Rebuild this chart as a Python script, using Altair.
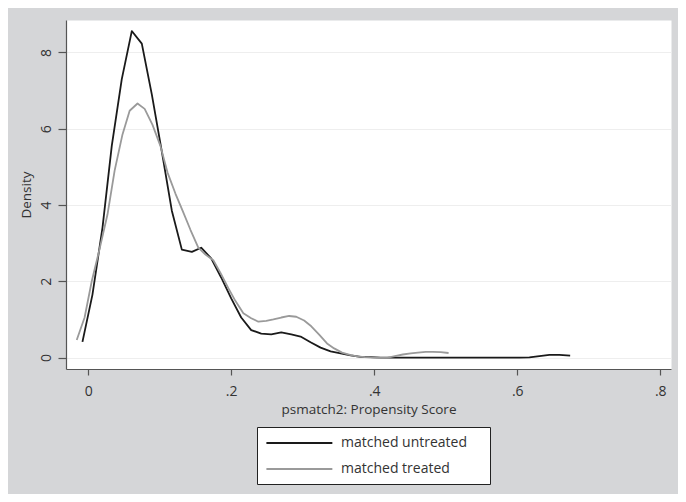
import altair as alt
import pandas as pd

series_names = ["matched untreated", "matched treated"]
series_colors = ["#1a1a1a", "#9a9a9a"]

untreated_x = [-0.008, 0.006, 0.020, 0.033, 0.047, 0.061, 0.075, 0.089, 0.103, 0.117,
               0.131, 0.145, 0.158, 0.172, 0.186, 0.200, 0.214, 0.228, 0.242, 0.256,
               0.270, 0.284, 0.297, 0.311, 0.325, 0.339, 0.353, 0.367, 0.381, 0.395,
               0.409, 0.423, 0.436, 0.450, 0.464, 0.478, 0.492, 0.506, 0.520, 0.534,
               0.548, 0.561, 0.575, 0.589, 0.603, 0.617, 0.631, 0.645, 0.659, 0.674]
untreated_y = [0.41, 1.65, 3.40, 5.55, 7.30, 8.56, 8.23, 6.90, 5.40, 3.85,
               2.83, 2.77, 2.88, 2.60, 2.10, 1.55, 1.05, 0.72, 0.63, 0.61,
               0.66, 0.61, 0.55, 0.40, 0.26, 0.16, 0.11, 0.06, 0.02, 0.01,
               0.00, 0.00, 0.00, 0.00, 0.00, 0.00, 0.00, 0.00, 0.00, 0.00,
               0.00, 0.00, 0.00, 0.00, 0.00, 0.005, 0.04, 0.07, 0.07, 0.05]

treated_x = [-0.016, -0.005, 0.005, 0.016, 0.027, 0.037, 0.048, 0.058, 0.069, 0.079,
             0.090, 0.101, 0.111, 0.122, 0.132, 0.143, 0.154, 0.164, 0.175, 0.185,
             0.196, 0.206, 0.217, 0.228, 0.238, 0.249, 0.259, 0.270, 0.281, 0.291,
             0.302, 0.312, 0.323, 0.334, 0.344, 0.355, 0.366, 0.376, 0.387, 0.397,
             0.408, 0.419, 0.429, 0.440, 0.451, 0.461, 0.472, 0.482, 0.493, 0.504]
treated_y = [0.46, 1.05, 2.00, 2.85, 3.75, 4.90, 5.85, 6.47, 6.66, 6.52,
             6.10, 5.55, 4.85, 4.30, 3.85, 3.35, 2.88, 2.70, 2.55, 2.22,
             1.82, 1.48, 1.16, 1.03, 0.94, 0.96, 1.00, 1.05, 1.09, 1.07,
             0.97, 0.82, 0.60, 0.37, 0.24, 0.13, 0.07, 0.03, 0.01, 0.00,
             -0.01, 0.00, 0.04, 0.08, 0.11, 0.13, 0.15, 0.15, 0.14, 0.12]

x_ticks = [0, 0.2, 0.4, 0.6, 0.8]
y_ticks = [0, 2, 4, 6, 8]

df = pd.concat([
    pd.DataFrame({"score": untreated_x, "density": untreated_y, "group": series_names[0]}),
    pd.DataFrame({"score": treated_x, "density": treated_y, "group": series_names[1]}),
])

FONT = "Open Sans"
TXT = "#333333"
PAD = "\u00a0" * 4 + "\u200b"

chart = alt.Chart(df).mark_line(strokeWidth=1.8, strokeJoin="round").encode(
    x=alt.X("score:Q",
            scale=alt.Scale(domain=[-0.031, 0.815], nice=False, zero=False),
            axis=alt.Axis(values=x_ticks, title="psmatch2: Propensity Score",
                          labelExpr="datum.value == 0 ? '0' : replace(format(datum.value, '.1f'), '0.', '.')",
                          grid=False, tickSize=6, labelPadding=9, titlePadding=4,
                          titleFontSize=13.5)),
    y=alt.Y("density:Q",
            scale=alt.Scale(domain=[-0.3, 8.85], nice=False, zero=False),
            axis=alt.Axis(values=y_ticks, title="Density", format="d",
                          grid=True, gridColor="#eeeeee", gridWidth=1.2,
                          tickSize=8, labelAngle=270, labelAlign="center",
                          labelBaseline="alphabetic", labelPadding=8, titlePadding=6,
                          titleFontSize=13.5)),
    color=alt.Color("group:N",
                    scale=alt.Scale(domain=series_names, range=series_colors),
                    legend=alt.Legend(title=None, orient="none", legendX=191, legendY=407,
                                      symbolType="M-1,0H9", symbolSize=174,
                                      symbolStrokeWidth=2, labelFontSize=14,
                                      labelFont=FONT, labelColor=TXT,
                                      labelExpr="datum.label + '" + PAD + "'",
                                      fillColor="white", strokeColor="#222222",
                                      padding=8, rowPadding=11, labelOffset=60)),
).properties(
    width=605, height=349,
    autosize=alt.AutoSizeParams(type="none"),
    padding={"left": 58, "top": 12, "right": 7, "bottom": 125},
).configure(
    background="#d5d6d8",
).configure_view(
    fill="white", stroke="transparent",
).configure_axis(
    labelFont=FONT, titleFont=FONT, labelFontSize=14, titleFontSize=14,
    labelColor=TXT, titleColor=TXT, titleFontWeight="normal",
    domainColor="#555555", tickColor="#555555", domainWidth=1.2, tickWidth=1.2,
)

chart.save("out.html", embed_options={"renderer": "svg", "actions": False})
